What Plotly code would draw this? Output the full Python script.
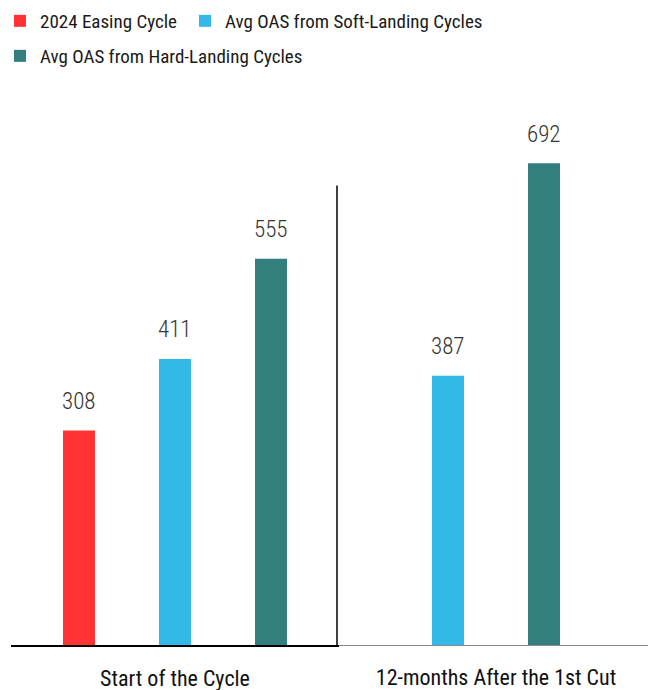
import plotly.graph_objects as go

# Periods shown as the two panels
periods = ["Start of the Cycle", "12-months After the 1st Cut"]

# Series values per period (None = not available)
series_names = ["2024 Easing Cycle", "Avg OAS from Soft-Landing Cycles", "Avg OAS from Hard-Landing Cycles"]
easing_2024 = [308, None]
soft_landing = [411, 387]
hard_landing = [555, 692]

colors = ["#FF3333", "#33B9E8", "#337F80"]
# one legend box per series: two on the top row, one on the second row
legend_ids = ["legend", "legend3", "legend2"]
FONT = "Roboto Condensed, Open Sans Condensed, DejaVu Sans Condensed, sans-serif"

W, H = 648, 690
L_DOM = (11 / W, 339 / W)
R_DOM = (339 / W, 1.0)
SLOT_PX = 96  # distance between neighbouring bars inside a group

fig = go.Figure()

all_series = [easing_2024, soft_landing, hard_landing]
annotations = []
for p_idx, period in enumerate(periods):
    xa = "x" if p_idx == 0 else "x2"
    ya = "y" if p_idx == 0 else "y2"
    present = [i for i, s in enumerate(all_series) if s[p_idx] is not None]
    n = len(present)
    for k, i in enumerate(present):
        v = all_series[i][p_idx]
        fig.add_trace(go.Bar(
            x=[period], y=[v], name=series_names[i],
            marker=dict(color=colors[i], line=dict(width=0)),
            xaxis=xa, yaxis=ya, legend=legend_ids[i],
            legendgroup=series_names[i], showlegend=(p_idx == 0),
            hoverinfo="skip",
        ))
        annotations.append(dict(
            x=period, y=v, xref=xa, yref=ya,
            text=str(v), showarrow=False, yanchor="middle",
            xshift=(k - (n - 1) / 2) * SLOT_PX, yshift=29,
            font=dict(family=FONT, size=23, color="#333333", weight=300),
        ))

YMAX = 760
# left category width 328px, three 96px slots
bargap = 1 - 3 * SLOT_PX / ((L_DOM[1] - L_DOM[0]) * W)
cat_px_right = 2 * SLOT_PX / (1 - bargap)
r_left_px, r_right_px, r_center_px = 339, 648, 496

legend_style = dict(
    orientation="h", xref="container", yref="container",
    xanchor="left", yanchor="middle",
    font=dict(family=FONT, size=19, color="#1a1a1a", weight=400),
    itemwidth=30, bgcolor="rgba(0,0,0,0)",
)
axis_font = dict(family=FONT, size=22, color="#111111", weight=400)

fig.update_layout(
    width=W, height=H,
    margin=dict(l=0, r=0, t=116, b=45, autoexpand=False),
    paper_bgcolor="white", plot_bgcolor="white",
    barmode="group", bargap=bargap, bargroupgap=2 / 3,
    font=dict(family=FONT, color="#111111"),
    showlegend=True,
    legend=dict(legend_style, x=0, y=1 - 21 / H),
    legend3=dict(legend_style, x=185 / W, y=1 - 21 / H),
    legend2=dict(legend_style, x=0, y=1 - 56 / H),
    xaxis=dict(
        domain=list(L_DOM), type="category", showgrid=False, zeroline=False,
        showline=True, linecolor="black", linewidth=2,
        ticks="", ticklabelstandoff=13, automargin=False,
        tickfont=axis_font, anchor="y", fixedrange=True,
    ),
    xaxis2=dict(
        domain=list(R_DOM), type="category", showgrid=False, zeroline=False,
        showline=True, linecolor="#888888", linewidth=1,
        range=[(r_left_px - r_center_px) / cat_px_right, (r_right_px - r_center_px) / cat_px_right],
        ticks="", ticklabelstandoff=13, automargin=False,
        tickfont=axis_font, anchor="y2", fixedrange=True,
    ),
    yaxis=dict(range=[0, YMAX], visible=False, domain=[0, 1], anchor="x"),
    yaxis2=dict(range=[0, YMAX], visible=False, domain=[0, 1], anchor="x2", matches="y"),
    annotations=annotations,
    shapes=[dict(
        type="line", xref="paper", yref="y", x0=337 / W, x1=337 / W,
        y0=0, y1=660, line=dict(color="black", width=1.5),
    )],
)

fig.write_html("out.html")
